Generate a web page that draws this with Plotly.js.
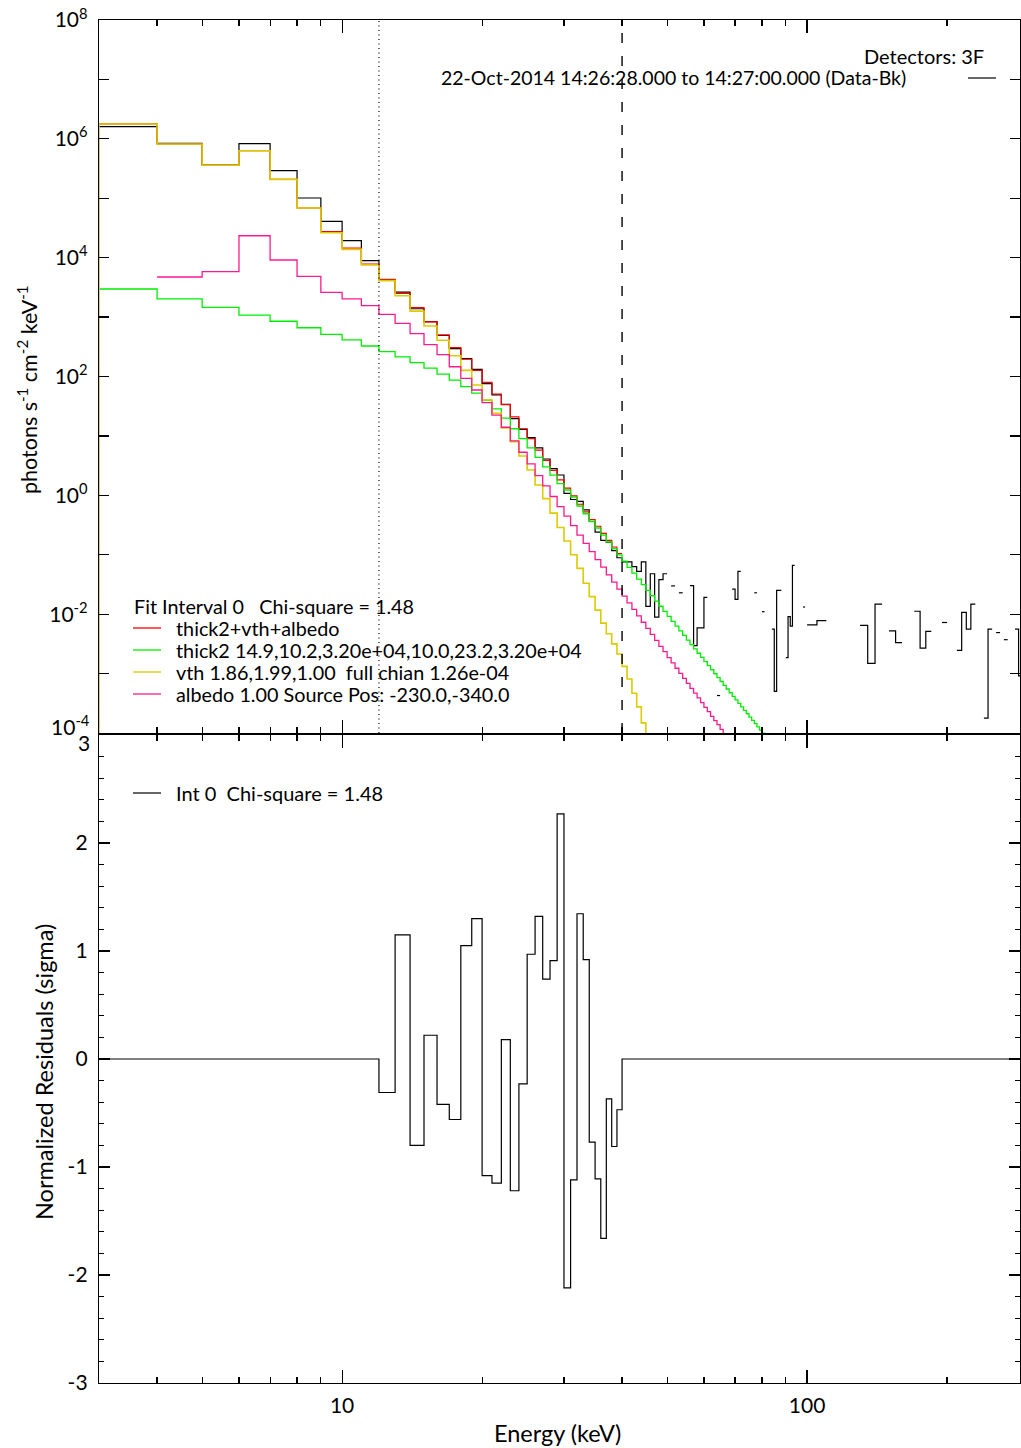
<!DOCTYPE html>
<html>
<head>
<meta charset="utf-8">
<script src="https://cdn.plot.ly/plotly-3.0.1.min.js"></script>
<style>
html,body{margin:0;padding:0;background:#fff;overflow:hidden}
#chart{width:1021px;height:1448px}
</style>
</head>
<body>
<div id="chart"></div>
<script>
// ---------------- data ----------------
// 1-keV model bin edges (keV)
const modelEdgesKeV = [2,3,4,5,6,7,8,9,10,11,12,13,14,15,16,17,18,19,20,21,22,23,24,25,26,27,28,29,30,31,32,33,34,35,36,37,38,39,40,41,42,43,44,45,46,47,48,49,50,51,52,53,54,55,56,57,58,59,60,61,62,63,64,65,66,67,68,69,70,71,72,73,74,75,76,77,78,79,80,81,82];

// data bin edges (keV): 1 keV up to 100 keV, 5 keV above
const dataEdgesKeV = [3,4,5,6,7,8,9,10,11,12,13,14,15,16,17,18,19,20,21,22,23,24,25,26,27,28,29,30,31,32,33,34,35,36,37,38,39,40,41,42,43,44,45,46,47,48,49,50,51,52,53,54,55,56,57,58,59,60,61,62,63,64,65,66,67,68,69,70,71,72,73,74,75,76,77,78,79,80,81,82,83,84,85,86,87,88,89,90,91,92,93,94,95,96,97,98,99,100,105,110,115,120,125,130,135,140,145,150,155,160,165,170,175,180,185,190,195,200,205,210,215,220,225,230,235,240,245,250,255,260,265,270,275,280,285,290];

// Data-Bk photon flux (photons s^-1 cm^-2 keV^-1); null = not drawn (<=0)
const dataFlux = [
  /* 3-12   */ 1.60e6, 8.41e5, 3.63e5, 8.32e5, 2.91e5, 1.01e5, 4.09e4, 1.93e4, 8.91e3, 4.27e3,
  /* 13-22  */ 2.63e3, 1.38e3, 841, 490, 295, 200, 132, 75.9, 49.0, 33.9,
  /* 23-32  */ 19.5, 12.9, 9.33, 6.31, 4.09, 2.81, 2.20, 1.08, 0.851, 0.794,
  /* 33-42  */ 0.568, 0.363, 0.240, 0.174, 0.162, 0.117, 0.0891, 0.0759, 0.0759, 0.0631,
  /* 43-52  */ 0.0525, 0.0759, 0.0135, 0.0479, 0.00891, 0.0380, 0.0479, null, 0.0299, null,
  /* 53-62  */ 0.0229, null, null, 0.0302, 0.00295, 0.00589, 0.00589, 0.0191, null, null,
  /* 63-72  */ null, 4.27e-4, null, null, null, null, 0.0263, 0.0178, 0.0525, null,
  /* 73-82  */ null, null, null, null, 0.0229, null, null, 0.0110, null, null,
  /* 83-92  */ null, 0.00562, 5.01e-4, 0.0251, 0.0251, null, null, 0.00186, 0.00912, 0.00631,
  /* 93-99  */ 0.0661, null, null, null, null, 0.0132, null,
  /* 100-145*/ 0.00661, 0.00776, null, null, null, null, 0.00646, 0.00148, 0.0148, null,
  /* 150-195*/ 0.00525, 0.00331, null, null, 0.0112, 0.00269, 0.00513, null, null, 0.00724,
  /* 200-245*/ null, null, 0.00245, 0.0107, 0.00562, 0.0148, null, null, 1.78e-4, 0.00562,
  /* 250-285*/ null, 0.00490, null, 0.00372, null, null, 0.00562, 9.12e-4
];

// total model thick2+vth+albedo (bins start at modelEdgesKeV[0] = 2 keV)
const totalFlux = [
  null, 1.78e6, 8.18e5, 3.59e5, 6.31e5, 2.08e5, 6.85e4, 2.75e4, 1.45e4, 7.83e3,
  4.33e3, 2.51e3, 1.44e3, 832, 501, 305, 195, 127, 79.4, 50.8,
  33.6, 20.9, 13.2, 9.00, 5.75, 3.89, 2.63, 1.82, 1.32, 0.977,
  0.708, 0.525, 0.389, 0.302, 0.229, 0.174, 0.135, 0.105
];

// thick2 component
const thick2Flux = [
  null, 2.97e3, 2.02e3, 1.46e3, 1.08e3, 851, 661, 513, 412, 326,
  263, 214, 171, 138, 110, 87.1, 67.6, 52.5, 39.8, 28.5,
  20.0, 13.2, 9.00, 6.31, 4.37, 3.02, 2.19, 1.58, 1.23, 0.933,
  0.661, 0.490, 0.363, 0.282, 0.214, 0.164, 0.127, 0.0993, 0.0780, 0.0615,
  0.0489, 0.0390, 0.0313, 0.0252, 0.0204, 0.0166, 0.0136, 0.0111, 0.00916, 0.00759,
  0.00630, 0.00524, 0.00438, 0.00367, 0.00308, 0.00261, 0.00220, 0.00187, 0.00159, 0.00136,
  0.00116, 9.93e-4, 8.53e-4, 7.36e-4, 6.35e-4, 5.50e-4, 4.76e-4, 4.14e-4, 3.61e-4, 3.15e-4,
  2.75e-4, 2.40e-4, 2.11e-4, 1.85e-4, 1.63e-4, 1.44e-4, 1.27e-4, 1.12e-4, 9.95e-5, 8.9e-5
];

// vth component (essentially zero below 3 keV)
const vthFlux = [
  1e-6, 1.78e6, 8.18e5, 3.59e5, 6.31e5, 2.08e5, 6.85e4, 2.63e4, 1.38e4, 7.52e3,
  4.10e3, 2.29e3, 1.26e3, 708, 407, 224, 127, 71.9, 40.3, 24.0,
  13.6, 8.00, 4.59, 2.67, 1.49, 0.879, 0.501, 0.288, 0.170, 0.100,
  0.0589, 0.0331, 0.0197, 0.0117, 0.00708, 0.00468, 0.00316, 0.00214, 0.00132, 8.13e-4,
  4.68e-4, 2.75e-4, 1.48e-4, 8.91e-5
];

// albedo component
const albedoFlux = [
  null, null, 4.73e3, 5.82e3, 2.34e4, 9.14e3, 4.85e3, 2.61e3, 2.02e3, 1.56e3,
  1.11e3, 785, 525, 343, 234, 146, 93.3, 59.3, 36.3, 22.4,
  14.0, 8.22, 5.31, 3.39, 2.14, 1.44, 0.955, 0.646, 0.447, 0.309,
  0.214, 0.155, 0.113, 0.0830, 0.0617, 0.0460, 0.0347, 0.0263, 0.0201, 0.0155,
  0.0120, 0.00933, 0.00731, 0.00575, 0.00457, 0.00363, 0.00288, 0.00234, 0.00186, 0.00151,
  0.00123, 0.00101, 8.32e-4, 6.84e-4, 5.62e-4, 4.68e-4, 3.89e-4, 3.24e-4, 2.69e-4, 2.29e-4,
  1.91e-4, 1.62e-4, 1.38e-4, 1.15e-4, 9.77e-5
];

// normalized residuals (0 outside the fit interval)
const residEdgesKeV = [3,12,13,14,15,16,17,18,19,20,21,22,23,24,25,26,27,28,29,30,31,32,33,34,35,36,37,38,39,40,300];
const residSigma = [0, -0.31, 1.15, -0.80, 0.22, -0.42, -0.56, 1.05, 1.30, -1.08, -1.15, 0.18, -1.22, -0.23, 0.97, 1.32, 0.74, 0.91, 2.27, -2.12, -1.12, 1.345, 0.92, -0.77, -1.11, -1.66, -0.37, -0.81, -0.47, 0];

const fitIntervalKeV = [12, 40];
const energyRangeKeV = [3, 287];

// tick labels
const fluxTickVals = [1e-2, 1e0, 1e2, 1e4, 1e6, 1e8];
const fluxTickText = ['10<sup>-2</sup>', '10<sup>0</sup>', '10<sup>2</sup>', '10<sup>4</sup>', '10<sup>6</sup>', '10<sup>8</sup>'];
const fluxMinorVals = [1e-3, 1e-1, 1e1, 1e3, 1e5, 1e7];
const residTickVals = [-3, -2, -1, 0, 1, 2];
const residTickText = ['-3', '-2', '-1', '0', '1', '2'];
const energyTickVals = [10, 100];
const energyTickText = ['10', '100'];
const energyMinorVals = [4,5,6,7,8,9,20,30,40,50,60,70,80,90,200];

const legendLabels = [
  'thick2+vth+albedo',
  'thick2 14.9,10.2,3.20e+04,10.0,23.2,3.20e+04',
  'vth 1.86,1.99,1.00\u00a0\u00a0full chian 1.26e-04',
  'albedo 1.00 Source Pos: -230.0,-340.0'
];
const colors = {data:'#000000', total:'#ff0000', thick2:'#00ee00', vth:'#dccb00', albedo:'#ff1a8c'};

// ---------------- helpers ----------------
function steps(edges, vals) {
  const x = [], y = [];
  let open = false;
  for (let i = 0; i < edges.length - 1; i++) {
    const v = vals[i];
    if (v === null || v === undefined) {
      if (open) { x.push(null); y.push(null); open = false; }
      continue;
    }
    x.push(edges[i], edges[i + 1]);
    y.push(v, v);
    open = true;
  }
  return {x, y};
}

function stepTrace(edges, vals, color, width, xa, ya) {
  const s = steps(edges, vals);
  return {x: s.x, y: s.y, xaxis: xa, yaxis: ya, type: 'scatter', mode: 'lines',
          line: {color: color, width: width}, connectgaps: false, hoverinfo: 'skip', showlegend: false};
}

const traces = [
  stepTrace(dataEdgesKeV, dataFlux, colors.data, 1.2, 'x', 'y'),
  stepTrace(modelEdgesKeV, totalFlux, colors.total, 1.2, 'x', 'y'),
  stepTrace(modelEdgesKeV, thick2Flux, colors.thick2, 1.3, 'x', 'y'),
  stepTrace(modelEdgesKeV, vthFlux, colors.vth, 1.6, 'x', 'y'),
  stepTrace(modelEdgesKeV, albedoFlux, colors.albedo, 1.3, 'x', 'y'),
  stepTrace(residEdgesKeV, residSigma, '#000000', 1.2, 'x2', 'y2')
];

// ---------------- layout ----------------
const FONT = 'Lato, "Open Sans", sans-serif';
const W = 1021, H = 1448, ML = 99, MR = 1, MT = 20, MB = 65;
const PW = W - ML - MR, PH = H - MT - MB;
const px2x = p => (p - ML) / PW;
const py2y = p => (H - MB - p) / PH;

const xCommon = {
  type: 'log', range: energyRangeKeV.map(Math.log10),
  showline: true, linecolor: '#000', linewidth: 1.2, mirror: 'allticks',
  ticks: 'inside', ticklen: 13, tickwidth: 1.2, tickcolor: '#000',
  tickmode: 'array', tickvals: energyTickVals, ticktext: energyTickText,
  minor: {tickmode: 'array', tickvals: energyMinorVals, ticks: 'inside', ticklen: 6, tickwidth: 1.2, tickcolor: '#000'},
  showgrid: false, zeroline: false, fixedrange: true,
  tickfont: {family: FONT, size: 21, color: '#000'}
};

const layout = {
  width: W, height: H,
  margin: {l: ML, r: MR, t: MT, b: MB, pad: 0},
  paper_bgcolor: '#fff', plot_bgcolor: '#fff',
  showlegend: false,
  font: {family: FONT, size: 19, color: '#000'},
  xaxis: Object.assign({}, xCommon, {domain: [0, 1], anchor: 'y', showticklabels: false}),
  yaxis: {
    domain: [py2y(733), 1], anchor: 'x', type: 'log', range: [-4, 8],
    showline: true, linecolor: '#000', linewidth: 1.2, mirror: 'allticks',
    ticks: 'inside', ticklen: 10, tickwidth: 1.2, tickcolor: '#000',
    tickmode: 'array', tickvals: fluxTickVals, ticktext: fluxTickText,
    minor: {tickmode: 'array', tickvals: fluxMinorVals, ticks: 'inside', ticklen: 10, tickwidth: 1.2, tickcolor: '#000'},
    ticklabelstandoff: 6,
    tickfont: {family: FONT, size: 21, color: '#000'},
    showgrid: false, zeroline: false, fixedrange: true
  },
  xaxis2: Object.assign({}, xCommon, {domain: [0, 1], anchor: 'y2', ticklabelstandoff: 4}),
  yaxis2: {
    domain: [0, py2y(735)], anchor: 'x2', range: [-3, 3],
    showline: true, linecolor: '#000', linewidth: 1.2, mirror: 'allticks',
    ticks: 'inside', ticklen: 11, tickwidth: 1.2, tickcolor: '#000',
    tickmode: 'array', tickvals: residTickVals, ticktext: residTickText,
    minor: {tickmode: 'linear', tick0: 0, dtick: 0.2, ticks: 'inside', ticklen: 5, tickwidth: 1.2, tickcolor: '#000'},
    ticklabelstandoff: 6,
    tickfont: {family: FONT, size: 21, color: '#000'},
    showgrid: false, zeroline: false, fixedrange: true
  },
  shapes: [
    {type: 'line', xref: 'x', yref: 'y domain', x0: fitIntervalKeV[0], x1: fitIntervalKeV[0], y0: 0, y1: 1,
     line: {color: '#000', width: 1.2, dash: '1px,3.5px'}},
    {type: 'line', xref: 'x', yref: 'y domain', x0: fitIntervalKeV[1], x1: fitIntervalKeV[1], y0: 0, y1: 1,
     line: {color: '#000', width: 1.4, dash: '10px,13px'}},
    // data legend sample (top right)
    {type: 'line', xref: 'paper', yref: 'paper', x0: px2x(968), x1: px2x(996), y0: py2y(78), y1: py2y(78),
     line: {color: colors.data, width: 1.2}},
    // model legend samples
    {type: 'line', xref: 'paper', yref: 'paper', x0: px2x(133), x1: px2x(161), y0: py2y(628), y1: py2y(628), line: {color: colors.total, width: 1.3}},
    {type: 'line', xref: 'paper', yref: 'paper', x0: px2x(133), x1: px2x(161), y0: py2y(650), y1: py2y(650), line: {color: colors.thick2, width: 1.3}},
    {type: 'line', xref: 'paper', yref: 'paper', x0: px2x(133), x1: px2x(161), y0: py2y(672), y1: py2y(672), line: {color: colors.vth, width: 1.3}},
    {type: 'line', xref: 'paper', yref: 'paper', x0: px2x(133), x1: px2x(161), y0: py2y(694), y1: py2y(694), line: {color: colors.albedo, width: 1.3}},
    // residual legend sample
    {type: 'line', xref: 'paper', yref: 'paper', x0: px2x(133), x1: px2x(161), y0: py2y(793), y1: py2y(793), line: {color: '#000', width: 1.2}}
  ],
  annotations: []
};

function ann(text, px, py, xanchor, size, extra) {
  return Object.assign({text: text, xref: 'paper', yref: 'paper', x: px2x(px), y: py2y(py),
    xanchor: xanchor, yanchor: 'middle', showarrow: false, borderpad: 0,
    font: {family: FONT, size: size, color: '#000'}}, extra || {});
}

layout.annotations.push(
  ann('Detectors: 3F', 985, 56, 'right', 20),
  ann('22-Oct-2014 14:26:28.000 to 14:27:00.000 (Data-Bk)', 440, 78, 'left', 19.5),
  ann('Fit Interval 0\u00a0\u00a0\u00a0Chi-square = 1.48', 133, 605.5, 'left', 19.8),
  ann(legendLabels[0], 175, 628, 'left', 19.8),
  ann(legendLabels[1], 175, 650, 'left', 19.8),
  ann(legendLabels[2], 175, 672, 'left', 19.8),
  ann(legendLabels[3], 175, 694, 'left', 19.8),
  ann('Int 0\u00a0\u00a0Chi-square = 1.48', 175, 793, 'left', 20),
  ann('10<sup>-4</sup>', 91, 725, 'right', 21),
  ann('3', 91, 742, 'right', 21),
  ann('photons s<sup>-1</sup> cm<sup>-2</sup> keV<sup>-1</sup>', 27, 390, 'center', 21.5, {textangle: -90}),
  ann('Normalized Residuals (sigma)', 44, 1072, 'center', 23.5, {textangle: -90}),
  ann('Energy (keV)', 557, 1433, 'center', 23.5)
);

Plotly.newPlot('chart', traces, layout, {displayModeBar: false, staticPlot: true});
</script>
</body>
</html>
